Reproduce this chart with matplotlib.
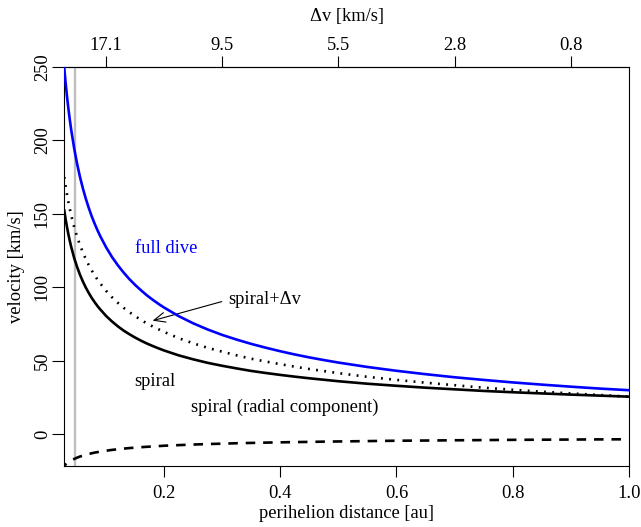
import matplotlib
matplotlib.use("Agg")
import matplotlib.pyplot as plt
from matplotlib.patches import FancyArrowPatch

plt.rcParams['font.family'] = ['Liberation Serif', 'DejaVu Serif']

# perihelion distance [au]
q = [0.0279, 0.03, 0.0325, 0.035, 0.0375, 0.04, 0.045, 0.05, 0.055, 0.06,
     0.065, 0.07, 0.075, 0.08, 0.085, 0.09, 0.1, 0.11, 0.12, 0.13, 0.14,
     0.15, 0.16, 0.17, 0.18, 0.19, 0.2, 0.225, 0.25, 0.275, 0.3, 0.325,
     0.35, 0.375, 0.4, 0.425, 0.45, 0.475, 0.5, 0.55, 0.6, 0.65, 0.7, 0.75,
     0.8, 0.85, 0.9, 0.95, 1.0]
full_dive = [249.0, 239.6, 229.9, 221.3, 213.5, 206.5, 194.2, 183.8, 174.8,
             167.0, 160.1, 153.9, 148.3, 143.3, 138.7, 134.5, 127.0, 120.5,
             114.9, 109.9, 105.4, 101.4, 97.8, 94.4, 91.4, 88.6, 86.0, 80.2,
             75.3, 71.1, 67.4, 64.2, 61.3, 58.7, 56.3, 54.1, 52.1, 50.3, 48.6,
             45.6, 43.0, 40.7, 38.6, 36.8, 35.1, 33.6, 32.2, 30.9, 29.8]
spiral = [152.1, 146.6, 140.9, 135.8, 131.2, 127.0, 119.7, 113.6, 108.3,
          103.7, 99.6, 96.0, 92.7, 89.8, 87.1, 84.7, 80.3, 76.6, 73.3, 70.4,
          67.9, 65.6, 63.5, 61.6, 59.9, 58.3, 56.8, 53.5, 50.8, 48.4, 46.4,
          44.6, 42.9, 41.5, 40.2, 39.0, 37.9, 36.9, 35.9, 34.2, 32.8, 31.5,
          30.4, 29.3, 28.4, 27.6, 26.8, 26.1, 25.4]
spiral_dv = [174.9, 169.2, 163.2, 157.8, 153.0, 148.5, 140.7, 134.2, 128.5,
             123.5, 119.0, 115.0, 111.4, 108.1, 105.1, 102.4, 97.4, 93.1,
             89.3, 85.9, 82.9, 80.2, 77.6, 75.3, 73.2, 71.3, 69.4, 65.2, 61.7,
             58.6, 56.0, 53.5, 51.2, 49.3, 47.5, 45.8, 44.2, 42.8, 41.4, 38.9,
             36.8, 34.9, 33.2, 31.5, 30.1, 28.8, 27.6, 26.5, 25.4]
spiral_radial = [-21.55, -20.8, -19.97, -19.2, -18.59, -18.0, -17.0, -16.1,
                 -15.35, -14.7, -14.12, -13.6, -13.15, -12.7, -12.35, -12.0,
                 -11.4, -10.85, -10.4, -9.98, -9.6, -9.30, -9.0, -8.73, -8.5,
                 -8.26, -8.0, -7.59, -7.2, -6.86, -6.6, -6.31, -6.1, -5.88,
                 -5.7, -5.52, -5.4, -5.22, -5.1, -4.85, -4.6, -4.47, -4.3,
                 -4.16, -4.0, -3.90, -3.8, -3.69, -3.6]

q_marker = 0.0465
x_ticks = [0.2, 0.4, 0.6, 0.8, 1.0]
x_ticklabels = ["0.2", "0.4", "0.6", "0.8", "1.0"]
y_ticks = [0, 50, 100, 150, 200, 250]
y_ticklabels = ["0", "50", "100", "150", "200", "250"]
top_ticks = [0.1, 0.3, 0.5, 0.7, 0.9]
top_ticklabels = ["17.1", "9.5", "5.5", "2.8", "0.8"]

W, H = 641, 527
FS = 13.3
fig = plt.figure(figsize=(W / 100, H / 100), dpi=100)
L, R, T, B = 64.3, 628.7, 66.7, 465.7
ax = fig.add_axes([L / W, 1 - B / H, (R - L) / W, (B - T) / H])

ax.axvline(q_marker, color='#BEBEBE', lw=1.7, zorder=1)
ax.plot(q, full_dive, color='#0000FF', lw=1.9, zorder=3)
ax.plot(q, spiral, color='black', lw=1.9, zorder=3)
ax.plot(q, spiral_dv, color='black', lw=1.9, linestyle=(0, (0.7, 2.4)), zorder=3)
ax.plot(q, spiral_radial, color='black', lw=1.9, linestyle=(2.5, (3.6, 3.0)), zorder=3)

ax.set_xlim(0.0279, 1.0)
ax.set_ylim(-21.6, 250)

ax.set_xticks(x_ticks)
ax.set_xticklabels(x_ticklabels)
ax.set_yticks(y_ticks)
ax.set_yticklabels(y_ticklabels)
ax.tick_params(axis='x', length=8, width=0.8, pad=6, labelsize=FS)
ax.tick_params(axis='y', length=8.3, width=0.8, pad=1.4, labelsize=FS)
plt.setp(ax.get_yticklabels(), rotation=90, va='center')
for s in ax.spines.values():
    s.set_linewidth(0.8)

sec = ax.secondary_xaxis('top')
sec.set_xticks(top_ticks)
sec.set_xticklabels(top_ticklabels)
sec.tick_params(axis='x', length=8, width=0.8, pad=1.2, labelsize=FS)
sec.spines['top'].set_linewidth(0.8)

# axis titles
fig.text(346.5 / W, 1 - 518.5 / H, "perihelion distance [au]", ha='center',
         va='baseline', fontsize=FS)
fig.text(346.5 / W, 1 - 21.0 / H, "\u0394v [km/s]", ha='center',
         va='baseline', fontsize=FS)
fig.text(16.5 / W, 1 - 266.4 / H, "velocity [km/s]", ha='center',
         va='center', rotation=90, fontsize=FS)

# curve labels
ax.text(0.204, 126, "full dive", color='#0000FF', ha='center', va='center', fontsize=FS)
ax.text(0.373, 91.2, "spiral+\u0394v", color='black', ha='center', va='center', fontsize=FS)
ax.text(0.184, 36, "spiral", color='black', ha='center', va='center', fontsize=FS)
ax.text(0.408, 18.4, "spiral (radial component)", color='black', ha='center',
        va='center', fontsize=FS)

arr = FancyArrowPatch((0.299, 90.1), (0.180, 77.1),
                      arrowstyle='->,head_length=8,head_width=3.5',
                      lw=0.8, color='black', shrinkA=0, shrinkB=0,
                      mutation_scale=1)
ax.add_patch(arr)

fig.savefig("out.png", dpi=100)
